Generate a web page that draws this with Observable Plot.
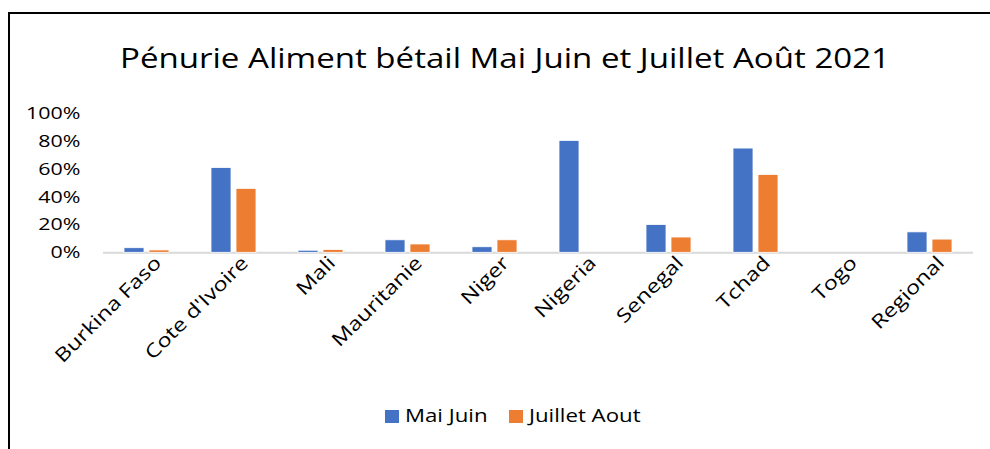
<!DOCTYPE html>
<html>
<head>
<meta charset="utf-8">
<script src="https://cdn.jsdelivr.net/npm/d3@7"></script>
<script src="https://cdn.jsdelivr.net/npm/@observablehq/plot@0.6"></script>
<style>
  html, body { margin: 0; padding: 0; background: #fff; }
  body { width: 990px; height: 449px; position: relative; overflow: hidden; font-family: "Open Sans", sans-serif; color: #000; }
  #frame { position: absolute; left: 8px; top: 12px; width: 982px; height: 437px; border-top: 2px solid #000; border-left: 2px solid #000; box-sizing: border-box; }
  #title { position: absolute; left: 0; top: 14px; width: 990px; height: 81px; }
  #title span { position: absolute; white-space: nowrap; font-size: 28px; line-height: 28px; top: 29px; transform-origin: 0 0; }
  #chart { position: absolute; left: 0; top: 95px; }
  #legend { position: absolute; left: 0; top: 380px; width: 990px; height: 69px; }
  .sw { position: absolute; width: 14px; height: 13px; top: 30px; }
  .lt { position: absolute; font-size: 19px; line-height: 19px; top: 26px; white-space: nowrap; transform-origin: 0 0; }
</style>
</head>
<body>
<div id="frame"></div>
<div id="title"><span id="ttl"></span></div>
<div id="chart"></div>
<div id="legend"></div>
<script>
// ---- data ----
const titleText = "Pénurie Aliment bétail Mai Juin et Juillet Août 2021";
const countries = ["Burkina Faso", "Cote d'Ivoire", "Mali", "Mauritanie", "Niger", "Nigeria", "Senegal", "Tchad", "Togo", "Regional"];
const seriesNames = ["Mai Juin", "Juillet Aout"];
const maiJuin     = [0.033, 0.61, 0.015, 0.09, 0.04, 0.805, 0.20, 0.75, 0, 0.147];
const juilletAout = [0.017, 0.46, 0.020, 0.06, 0.09, 0,     0.11, 0.56, 0, 0.095];
const seriesColors = ["#4472C4", "#ED7D31"];
const yTicks = [0, 0.2, 0.4, 0.6, 0.8, 1.0];

const rows = [];
countries.forEach((c, i) => {
  rows.push({country: c, series: seriesNames[0], value: maiJuin[i]});
  rows.push({country: c, series: seriesNames[1], value: juilletAout[i]});
});

const K = 1.17; // horizontal stretch of the reference's text

// title
const ttl = document.getElementById("ttl");
ttl.textContent = titleText;
{
  const w = ttl.getBoundingClientRect().width;
  const target = 770;
  ttl.style.transform = `scaleX(${target / w})`;
  ttl.style.left = (505 - target / 2) + "px";
}

const chart = Plot.plot({
  width: 990,
  height: 285,
  marginLeft: 103,
  marginRight: 17,
  marginTop: 18.3,
  marginBottom: 127.7,
  style: {fontFamily: "Open Sans, sans-serif", fontSize: "17px", background: "transparent", color: "#000", overflow: "visible"},
  fx: {domain: countries, padding: 0, label: null},
  x: {domain: seriesNames, paddingInner: 0.2, paddingOuter: 0.84, axis: null},
  y: {domain: [0, 1], label: null},
  color: {domain: seriesNames, range: seriesColors},
  marks: [
    Plot.ruleY([0], {stroke: "#D9D9D9", strokeWidth: 2}),
    Plot.barY(rows, {fx: "country", x: "series", y: "value", fill: "series", stroke: "#fff", strokeWidth: 0.8}),
    Plot.axisY({ticks: yTicks, tickFormat: d3.format(".0%"), tickSize: 0, tickPadding: 23, label: null}),
    Plot.axisFx({anchor: "bottom", tickRotate: -45, tickSize: 0, tickPadding: 15, dx: 11, dy: -8, fontSize: 19, label: null})
  ]
});
document.getElementById("chart").appendChild(chart);

// stretch svg text horizontally like the reference
chart.querySelectorAll("text").forEach(t => {
  const len = t.getComputedTextLength();
  const k = /%$/.test(t.textContent) ? 1.26 : 1.23;
  if (len > 0) {
    t.setAttribute("textLength", len * k);
    t.setAttribute("lengthAdjust", "spacingAndGlyphs");
  }
});

// legend
const legend = document.getElementById("legend");
const swX = [385, 509];
seriesNames.forEach((s, i) => {
  const sw = document.createElement("div");
  sw.className = "sw";
  sw.style.left = swX[i] + "px";
  sw.style.background = seriesColors[i];
  legend.appendChild(sw);
  const lt = document.createElement("div");
  lt.className = "lt";
  lt.textContent = s;
  lt.style.left = (swX[i] + 20) + "px";
  lt.style.transform = `scaleX(${K})`;
  legend.appendChild(lt);
});
</script>
</body>
</html>
